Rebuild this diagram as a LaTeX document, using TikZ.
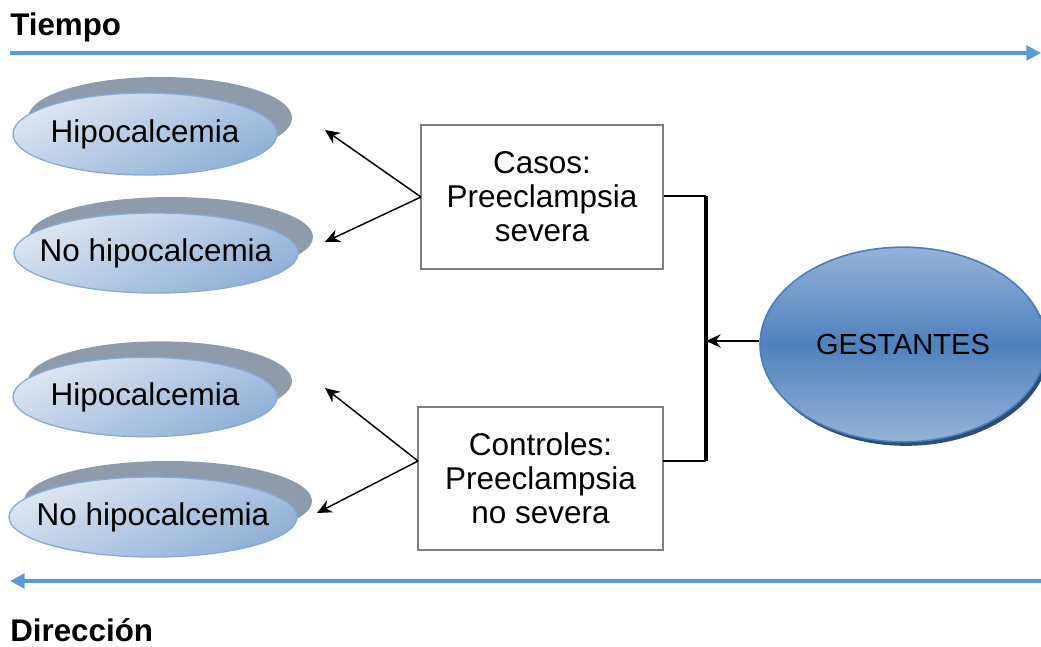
\documentclass[tikz,border=0pt]{standalone}
\usepackage{fontspec}
\setmainfont{Liberation Sans}
\usetikzlibrary{shapes.geometric,shadows,arrows.meta}
\definecolor{tblue}{HTML}{5B9BD5}
\definecolor{ovaltop}{HTML}{DCE6F2}
\definecolor{ovalbot}{HTML}{8FAFD6}
\definecolor{ovalborder}{HTML}{86AADA}
\definecolor{shadowgray}{HTML}{8E9BAA}
\definecolor{gmid}{HTML}{4F81BD}
\definecolor{gedge}{HTML}{95B3D7}
\definecolor{gborder}{HTML}{4A7EBB}
\definecolor{gdark}{HTML}{2C4D75}
\definecolor{boxgray}{HTML}{7F7F7F}
\begin{document}
\begin{tikzpicture}[x=0.75pt,y=-0.75pt,
  bigtxt/.style={font=\fontsize{23.6pt}{25.5pt}\selectfont},
  titletxt/.style={font=\fontsize{23.5pt}{26pt}\selectfont\bfseries, anchor=base west, inner sep=0pt},
  oval/.style={ellipse, draw=ovalborder, line width=1pt, inner sep=0pt,
    top color=ovaltop, bottom color=ovalbot, shading angle=25,
    general shadow={fill=shadowgray, shadow xshift=11.25pt, shadow yshift=12pt}},
  boxst/.style={draw=boxgray, line width=1.5pt, fill=white, align=center, bigtxt,
    minimum height=108pt, inner sep=0pt},
  blueline/.style={draw=tblue, line width=2.6pt, -{Triangle[length=11pt,width=11pt]}},
  blk/.style={draw=black, line width=1.1pt, -{Stealth[length=11pt,width=10pt]}},
  bracket/.style={draw=black, line width=1.5pt}
]
\useasboundingbox (0,0) rectangle (1041,646);

% titles
\node[titletxt] (tiempo) at (10,36) {Tiempo};
\node[titletxt] (direccion) at (10,641) {Dirección};

% time arrows
\coordinate (tl) at (10,53);
\coordinate (tr) at (1041,53);
\coordinate (bl) at (10,581);
\coordinate (br) at (1041,581);
\draw[blueline] (tl) -- (tr);
\draw[blueline] (br) -- (bl);

% outcome ovals
\node[oval, minimum width=198pt, minimum height=61.5pt,
  label={[bigtxt]center:Hipocalcemia}] (h1) at (145,134) {};
\node[oval, minimum width=213pt, minimum height=60pt,
  label={[bigtxt]center:No hipocalcemia}] (n1) at (156,253) {};
\node[oval, minimum width=198pt, minimum height=59.5pt,
  label={[bigtxt]center:Hipocalcemia}] (h2) at (145,397) {};
\node[oval, minimum width=216pt, minimum height=60pt,
  label={[bigtxt]center:No hipocalcemia}] (n2) at (153,517) {};

% groups
\node[boxst, minimum width=181.5pt] (casos) at (542,197) {Casos:\\Preeclampsia\\severa};
\node[boxst, minimum width=183.75pt, minimum height=107pt] (controles) at (540.5,478.5) {Controles:\\Preeclampsia\\no severa};

% gestantes
\node[ellipse, draw=gborder, line width=1.2pt, inner sep=0pt,
  minimum width=214.5pt, minimum height=146pt,
  top color=gedge, bottom color=gedge, middle color=gmid,
  general shadow={fill=gdark, shadow xshift=2.2pt, shadow yshift=-3pt},
  label={[font=\fontsize{21.8pt}{24pt}\selectfont]center:GESTANTES}] (gest) at (903,344.5) {};

% arrow tips
\coordinate (a1) at (325,130);
\coordinate (a2) at (325,242);
\coordinate (a3) at (325,388);
\coordinate (a4) at (317,513);
\coordinate (cs) at (421,197);
\coordinate (ct) at (418,461);
\draw[blk] (cs) -- (a1);
\draw[blk] (cs) -- (a2);
\draw[blk] (ct) -- (a3);
\draw[blk] (ct) -- (a4);

% bracket
\coordinate (btop) at (706,196);
\coordinate (bbot) at (706,461);
\coordinate (bmid) at (706,341);
\coordinate (cte) at (663,461);
\draw[bracket] (casos.east |- btop) -- (btop);
\draw[bracket] (cte) -- (bbot);
\draw[draw=black, line width=2.4pt] (btop) -- (bbot);
\draw[blk] (gest.west |- bmid) -- (bmid);
\end{tikzpicture}
\end{document}
